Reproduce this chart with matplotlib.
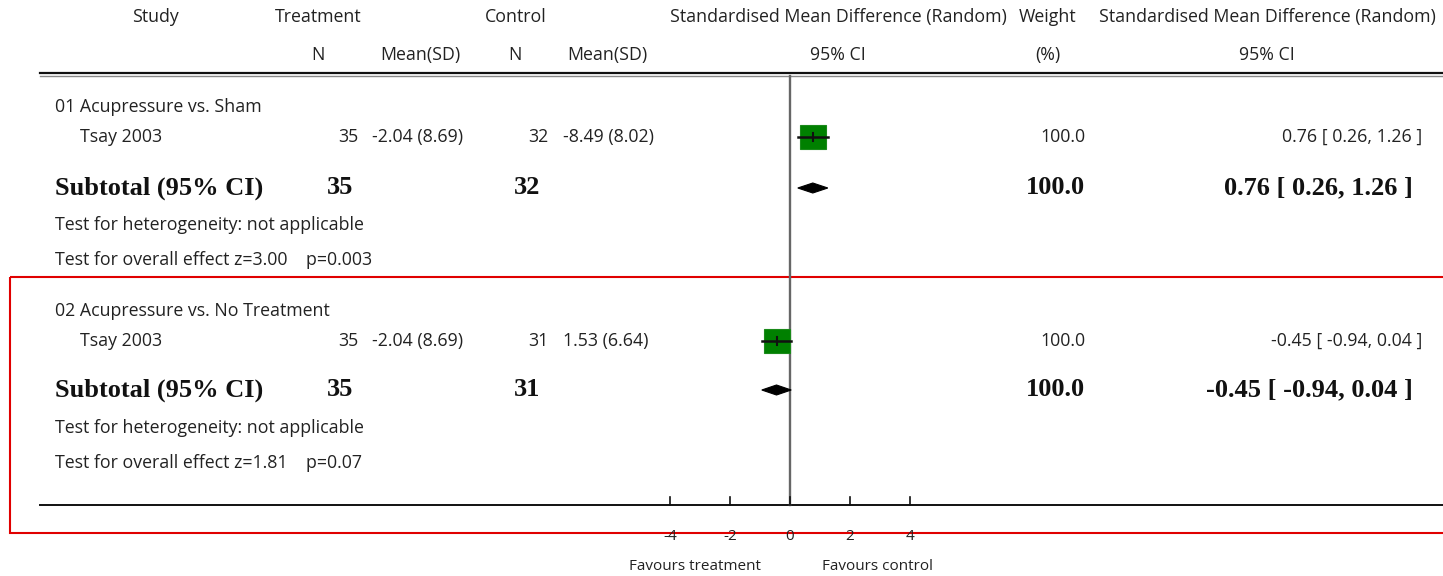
import numpy as np
import matplotlib.pyplot as plt
from matplotlib.patches import Rectangle, Polygon

# Forest plot data: Tsay 2003, acupressure comparisons
groups = ['01 Acupressure vs. Sham', '02 Acupressure vs. No Treatment']
studies = ['Tsay 2003', 'Tsay 2003']
trt_n = [35, 35]
trt_mean_sd = ['-2.04 (8.69)', '-2.04 (8.69)']
ctl_n = [32, 31]
ctl_mean_sd = ['-8.49 (8.02)', '1.53 (6.64)']
smd = [0.76, -0.45]
ci_low = [0.26, -0.94]
ci_high = [1.26, 0.04]
weights = [100.0, 100.0]
overall = ['Test for overall effect z=3.00    p=0.003',
           'Test for overall effect z=1.81    p=0.07']
ticks = [-4, -2, 0, 2, 4]

W, H = 1443, 576
fig = plt.figure(figsize=(W / 100, H / 100), dpi=100)

# text layer in pixel coordinates
ax = fig.add_axes([0, 0, 1, 1])
ax.set_xlim(0, W)
ax.set_ylim(H, 0)
ax.axis('off')

# forest layer: 0 at x=790 px, 30 px per unit
fx0, fx1 = 600, 1000
fa = fig.add_axes([fx0 / W, 0, (fx1 - fx0) / W, 1])
fa.set_xlim((fx0 - 790) / 30, (fx1 - 790) / 30)
fa.set_ylim(H, 0)
fa.axis('off')

sans = 'Open Sans'
serif = 'Liberation Serif'
fs = 12.8
col = '#222222'

def t(x, y, s, ha='left', **kw):
    kw.setdefault('fontsize', fs)
    kw.setdefault('family', sans)
    kw.setdefault('color', col)
    ax.text(x, y, s, ha=ha, va='center', **kw)

# header
t(155, 17, 'Study', ha='center')
t(318, 17, 'Treatment', ha='center')
t(516, 17, 'Control', ha='center')
t(838, 17, 'Standardised Mean Difference (Random)', ha='center')
t(1048, 17, 'Weight', ha='center')
t(1267, 17, 'Standardised Mean Difference (Random)', ha='center')
t(318, 55, 'N', ha='center')
t(420, 55, 'Mean(SD)', ha='center')
t(515, 55, 'N', ha='center')
t(607, 55, 'Mean(SD)', ha='center')
t(838, 55, '95% CI', ha='center')
t(1048, 55, '(%)', ha='center')
t(1267, 55, '95% CI', ha='center')

ax.plot([40, W], [72.5, 72.5], color='#111111', lw=1.6)
ax.plot([40, W], [75.5, 75.5], color='#888888', lw=1.0)

# rows
row_y = [(107, 137, 188, 225, 260), (311, 341, 390, 428, 463)]
for g in range(2):
    yh, ys, ysub, yhet, yov = row_y[g]
    t(55, yh, groups[g])
    t(80, ys, studies[g])
    t(358, ys, str(trt_n[g]), ha='right')
    t(372, ys, trt_mean_sd[g])
    t(548, ys, str(ctl_n[g]), ha='right')
    t(563, ys, ctl_mean_sd[g])
    t(1085, ys, '%.1f' % weights[g], ha='right')
    ci_txt = '%.2f [ %.2f, %.2f ]' % (smd[g], ci_low[g], ci_high[g])
    t(1422, ys, ci_txt, ha='right')

    bold = dict(family=serif, fontweight='bold', fontsize=19, color='#111111')
    t(55, ysub, 'Subtotal (95% CI)', **bold)
    t(340, ysub, str(trt_n[g]), ha='center', **bold)
    t(527, ysub, str(ctl_n[g]), ha='center', **bold)
    t(1085, ysub, '%.1f' % weights[g], ha='right', **bold)
    t(1413, ysub, ci_txt, ha='right', **bold)
    t(55, yhet, 'Test for heterogeneity: not applicable')
    t(55, yov, overall[g])

    # study box and CI
    half = 13 / 30
    fa.add_patch(Rectangle((smd[g] - half, ys - 12), 2 * half, 24,
                           facecolor='#008000', edgecolor='#1a8a1a', lw=0.8, zorder=3))
    fa.plot([ci_low[g], ci_high[g]], [ys, ys], color='#111111', lw=1.8, zorder=4)
    fa.plot([smd[g], smd[g]], [ys - 4, ys + 4], color='#111111', lw=1.5, zorder=4)
    # pooled diamond
    fa.add_patch(Polygon([(ci_low[g], ysub), (smd[g], ysub - 5),
                          (ci_high[g], ysub), (smd[g], ysub + 5)],
                         closed=True, facecolor='black', edgecolor='black', lw=0.8, zorder=3))

# zero line
fa.plot([0, 0], [76, 505], color='#666666', lw=1.7, zorder=2)

# scale
ax.plot([40, W], [505, 505], color='#111111', lw=1.4)
for v in ticks:
    fa.plot([v, v], [497, 505], color='#111111', lw=1.2)
    fa.text(v, 537, str(v), ha='center', va='center', fontsize=11,
            family=sans, color=col)
t(695, 567, 'Favours treatment', ha='center', fontsize=11)
t(877, 567, 'Favours control', ha='center', fontsize=11)

# highlight box around second comparison
ax.add_patch(Rectangle((10, 277), W + 10, 256, fill=False,
                       edgecolor='#e00000', lw=1.5, zorder=5))

fig.savefig('out.png', dpi=100)
